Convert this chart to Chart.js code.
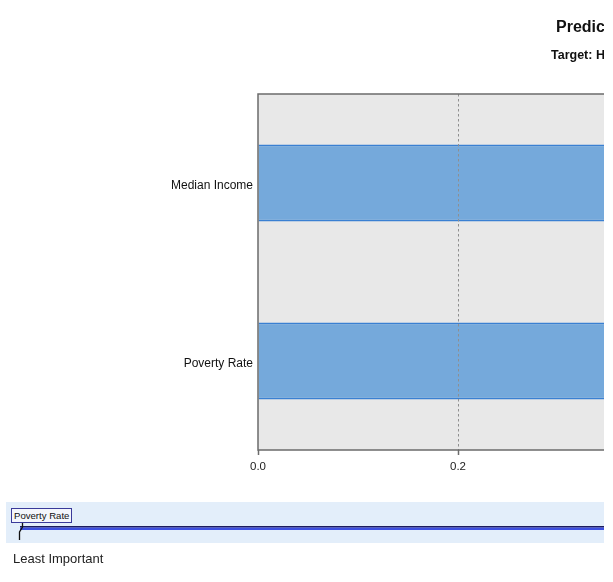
<!DOCTYPE html>
<html>
<head>
<meta charset="utf-8">
<script src="https://cdn.jsdelivr.net/npm/chart.js@4.4.1/dist/chart.umd.min.js"></script>
<style>
  html, body { margin:0; padding:0; background:#fff; width:613px; height:582px; overflow:hidden; font-family:"Liberation Sans", Arial, sans-serif; }
  #wrap { position:absolute; left:0; top:0; width:604px; height:582px; overflow:hidden; }
  #c { position:absolute; left:0; top:0; }
  #band { position:absolute; left:6px; top:502px; width:700px; height:41px; background:#E3EEFA; }
  #least { position:absolute; left:13px; top:551px; font-size:13px; color:#222; }
  #box { position:absolute; left:11px; top:508px; height:13px; padding:0 2px; border:1px solid #3a3a9a; background:#F4F6FC; font-size:9.6px; line-height:13px; color:#111; }
  svg { position:absolute; left:0; top:0; }
</style>
</head>
<body>
<div id="wrap">
  <canvas id="c" width="1271" height="490"></canvas>
  <div id="band"></div>
  <svg width="700" height="582">
    <rect x="20" y="526" width="680" height="1.6" fill="#1c1c5e"/>
    <rect x="20" y="527.6" width="680" height="2.4" fill="#3d4fe0"/>
    <path d="M22.5 521 L22.5 527 L19.5 532 L19.5 540" stroke="#111" stroke-width="1.3" fill="none"/>
  </svg>
  <div id="box">Poverty Rate</div>
  <div id="least">Least Important</div>
</div>
<script>
const categories = ["Median Income", "Poverty Rate"];
const importance = [0.55, 0.45];
const xTicks = [0.0, 0.2, 0.4, 0.6, 0.8, 1.0];
const titleText = "Predictor Importance";
const subtitleText = "Target: Homeless Rate";

const bgPlugin = {
  id: 'bgPlugin',
  beforeDraw(chart) {
    const {ctx, chartArea:a} = chart;
    ctx.save();
    ctx.fillStyle = '#E8E8E8';
    ctx.fillRect(a.left, a.top, a.right - a.left, a.bottom - a.top);
    ctx.restore();
  },
  afterDraw(chart) {
    const {ctx, chartArea:a} = chart;
    ctx.save();
    ctx.strokeStyle = '#6b6b6b';
    ctx.lineWidth = 1.5;
    ctx.strokeRect(a.left, a.top, a.right - a.left, a.bottom - a.top);
    ctx.fillStyle = '#111';
    ctx.textBaseline = 'alphabetic';
    ctx.textAlign = 'left';
    ctx.font = 'bold 16px "Liberation Sans", Arial, sans-serif';
    ctx.fillText(titleText, 556, 32);
    ctx.font = 'bold 12.5px "Liberation Sans", Arial, sans-serif';
    ctx.fillText(subtitleText, 551, 59);
    ctx.restore();
  }
};

new Chart(document.getElementById('c'), {
  type: 'bar',
  data: {
    labels: categories,
    datasets: [{
      data: importance,
      backgroundColor: '#75A9DB',
      borderColor: '#3A80D2',
      borderWidth: {top: 2, bottom: 2, left: 0, right: 0},
      borderSkipped: false,
      categoryPercentage: 1.0,
      barPercentage: 0.432
    }]
  },
  plugins: [bgPlugin],
  options: {
    indexAxis: 'y',
    responsive: false,
    animation: false,
    devicePixelRatio: 1,
    layout: { padding: { top: 94, right: 6, left: 0, bottom: 0 } },
    plugins: { legend: { display: false }, tooltip: { enabled: false }, title: { display: false } },
    scales: {
      x: {
        min: 0, max: 1,
        afterBuildTicks(scale) { scale.ticks = xTicks.map(v => ({ value: v })); },
        afterFit(scale) { scale.height = 40; },
        border: { display: false, dash: [2.5, 2.5] },
        grid: {
          z: 1,
          color: ctx => ctx.index === 0 ? 'rgba(0,0,0,0)' : '#8f8f8f',
          lineWidth: 1,
          drawTicks: true,
          tickLength: 5,
          tickColor: '#6b6b6b',
          tickWidth: 1.5,
          tickBorderDash: [1, 0]
        },
        ticks: {
          padding: 5,
          color: '#222',
          font: { family: '"Liberation Sans", Arial, sans-serif', size: 11.5 },
          callback: v => Number(v).toFixed(1)
        }
      },
      y: {
        afterFit(scale) { scale.width = 258; },
        border: { display: false },
        grid: { display: false, drawTicks: false },
        ticks: {
          padding: 5,
          labelOffset: 3,
          color: '#111',
          font: { family: '"Liberation Sans", Arial, sans-serif', size: 12 }
        }
      }
    }
  }
});
</script>
</body>
</html>
